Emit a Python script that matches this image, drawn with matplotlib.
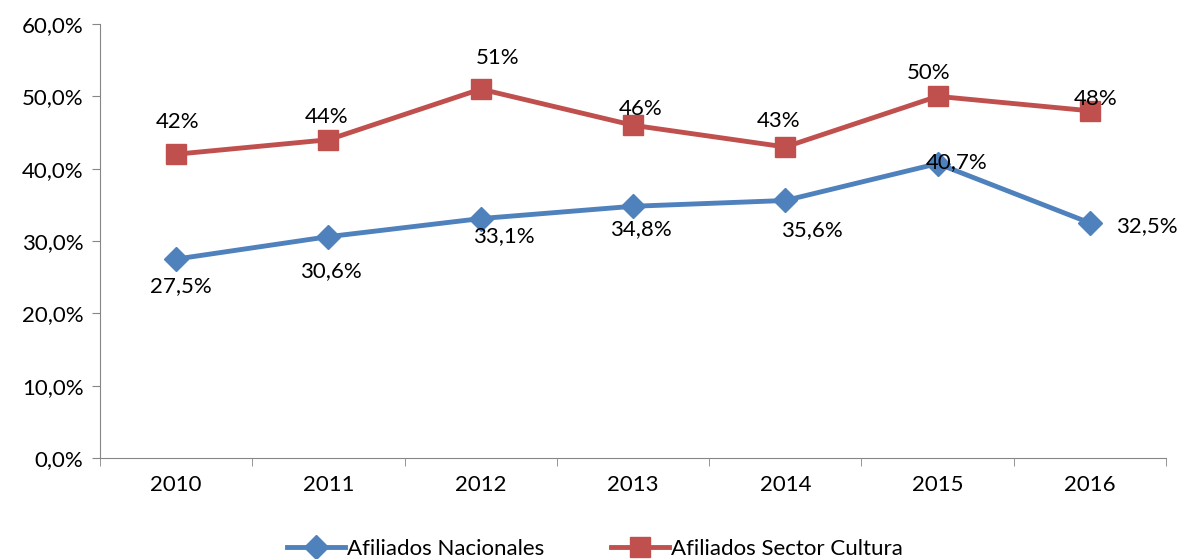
import matplotlib.pyplot as plt
import numpy as np
from matplotlib.ticker import FuncFormatter

plt.rcParams['font.family'] = ['Lato', 'DejaVu Sans']

years = ['2010', '2011', '2012', '2013', '2014', '2015', '2016']
nacionales = [27.5, 30.6, 33.1, 34.8, 35.6, 40.7, 32.5]
cultura = [42, 44, 51, 46, 43, 50, 48]

# label offsets in pixels (dx, dy)
off_nac = [(5, -27), (2, -34), (23, -18), (8, -23), (27, -30), (19, 2), (57, -3)]
off_cul = [(1, 32), (-2, 23), (17, 31), (8, 16), (-7, 26), (-9, 23), (6, 12)]

blue = '#4F81BD'
red = '#C0504D'
gray = '#868686'
fs = 16

fig = plt.figure(figsize=(11.9, 5.59), dpi=100)
ax = fig.add_axes([100 / 1190, 1 - 458 / 559, 1066 / 1190, 434 / 559])

x = np.arange(len(years))
ax.plot(x, np.array(nacionales) / 100, color=blue, lw=3.5, marker='D', ms=12,
        label='Afiliados Nacionales')
ax.plot(x, np.array(cultura) / 100, color=red, lw=3.5, marker='s', ms=14,
        label='Afiliados Sector Cultura')

for i, v in enumerate(nacionales):
    ax.annotate(f'{v:.1f}%'.replace('.', ','), (x[i], v / 100),
                xytext=off_nac[i], textcoords='offset pixels',
                ha='center', va='center', fontsize=fs)
for i, v in enumerate(cultura):
    ax.annotate(f'{v}%', (x[i], v / 100),
                xytext=off_cul[i], textcoords='offset pixels',
                ha='center', va='center', fontsize=fs)

ax.set_xlim(-0.5, len(years) - 0.5)
ax.set_ylim(0, 0.6)
ax.set_yticks(np.arange(0, 0.61, 0.1))
ax.yaxis.set_major_formatter(FuncFormatter(lambda v, p: f'{v * 100:.1f}%'.replace('.', ',')))
ax.set_xticks(x)
ax.set_xticklabels(years)
ax.set_xticks(np.arange(-0.5, len(years)), minor=True)
ax.tick_params(axis='x', which='major', length=0, pad=12, labelsize=fs)
ax.tick_params(axis='x', which='minor', length=6, color=gray, direction='out')
ax.tick_params(axis='y', length=6, color=gray, labelsize=fs, pad=6)

for s in ['top', 'right']:
    ax.spines[s].set_visible(False)
for s in ['left', 'bottom']:
    ax.spines[s].set_color(gray)

fig.legend(loc='lower center', ncol=2, bbox_to_anchor=(0.5, -0.035), frameon=False,
           fontsize=fs, handlelength=2.6, handletextpad=0.1, columnspacing=3.0)

fig.savefig('out.png', dpi=100)
